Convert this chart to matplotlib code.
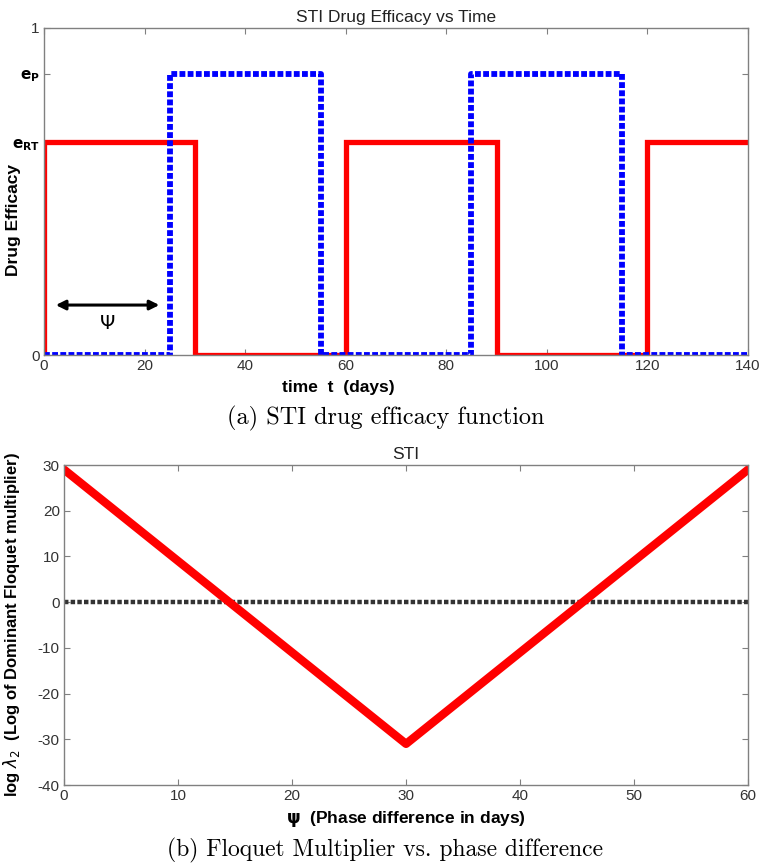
import matplotlib
matplotlib.use("Agg")
import matplotlib.pyplot as plt

# ---- data ----
e_RT = 0.65
e_P = 0.86
red_t = [0, 0, 30, 30, 60, 60, 90, 90, 120, 120, 140]
red_e = [0, e_RT, e_RT, 0, 0, e_RT, e_RT, 0, 0, e_RT, e_RT]
blue_t = [0, 25, 25, 55, 55, 85, 85, 115, 115, 140]
blue_e = [0, 0, e_P, e_P, 0, 0, e_P, e_P, 0, 0]
psi = [0, 30, 60]
log_lambda = [29, -31, 29]
zero_x = [0, 60]
zero_y = [0, 0]
top_xticks = [0, 20, 40, 60, 80, 100, 120, 140]
bot_xticks = [0, 10, 20, 30, 40, 50, 60]
bot_yticks = [-40, -30, -20, -10, 0, 10, 20, 30]

plt.rcParams['font.family'] = ['Liberation Sans', 'DejaVu Sans']
plt.rcParams['axes.unicode_minus'] = False
fig = plt.figure(figsize=(7.66, 8.64), dpi=100)

def style(ax):
    for s in ax.spines.values():
        s.set_color('#808080')
        s.set_linewidth(1.0)
    ax.tick_params(direction='in', top=True, right=True, length=4, color='#808080',
                   labelsize=11, labelcolor='#333333', pad=3)

# ---- top panel ----
ax1 = fig.add_axes([0.0574, 0.589, 0.919, 0.3786])
ax1.plot(red_t, red_e, color='red', lw=3.8, solid_joinstyle='miter')
ax1.plot(blue_t, blue_e, color='blue', lw=4.2, linestyle=(0, (1.0, 0.4)))
ax1.set_xlim(0, 140)
ax1.set_ylim(0, 1)
ax1.set_xticks(top_xticks)
ax1.set_yticks([0, e_RT, e_P, 1])
ax1.set_yticklabels(['0', r'$\mathbf{e_{RT}}$', r'$\mathbf{e_P}$', '1'])
style(ax1)
for lbl in ax1.get_yticklabels()[1:3]:
    lbl.set_fontsize(11)
    lbl.set_color('black')
ax1.set_title('STI Drug Efficacy vs Time', fontsize=12.5, pad=4, color='#222222')
ax1.set_xlabel('time  t  (days)', fontsize=12.5, fontweight='bold')
ax1.xaxis.set_label_coords(0.418, -0.076)
ax1.set_ylabel('Drug Efficacy', fontsize=12.5, fontweight='bold')
ax1.yaxis.set_label_coords(-0.032, 0.413)
ax1.annotate('', xy=(23.5, 0.153), xytext=(1.8, 0.153),
             arrowprops=dict(arrowstyle='<|-|>', color='black', lw=2.2,
                             mutation_scale=14))
ax1.text(12.5, 0.095, r'$\Psi$', ha='center', va='center', fontsize=14)

fig.text(0.503, 0.516, '(a) STI drug efficacy function', family='cmr10',
         fontsize=17.5, ha='center', va='center')

# ---- bottom panel ----
ax2 = fig.add_axes([0.0836, 0.0914, 0.893, 0.3704])
ax2.plot(zero_x, zero_y, color='#333333', lw=3.2, linestyle=(0, (1.0, 0.5)))
ax2.plot(psi, log_lambda, color='red', lw=6)
ax2.set_xlim(0, 60)
ax2.set_ylim(-40, 30)
ax2.set_xticks(bot_xticks)
ax2.set_yticks(bot_yticks)
style(ax2)
ax2.set_title('STI', fontsize=12.5, pad=4, color='#222222')
ax2.set_xlabel(r'$\mathbf{\psi}$  (Phase difference in days)', fontsize=12.5,
               fontweight='bold', labelpad=4)
ax2.set_ylabel(r'log $\lambda_2$  (Log of Dominant Floquet multiplier)',
               fontsize=12, fontweight='bold')
ax2.yaxis.set_label_coords(-0.061, 0.5)

fig.text(0.503, 0.016, '(b) Floquet Multiplier vs. phase difference',
         family='cmr10', fontsize=17, ha='center', va='center')

fig.savefig('out.png', dpi=100)
